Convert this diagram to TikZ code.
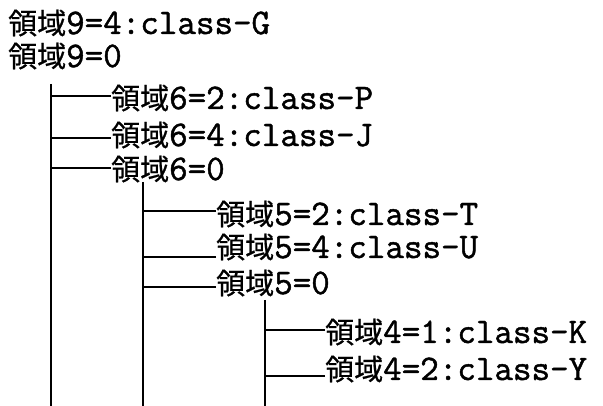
\documentclass[tikz,border=0pt]{standalone}
\usepackage{fontspec}
\newfontfamily\mono[FakeBold=1.3]{Latin Modern Mono}
\newfontfamily\cjk[FakeBold=0.6]{Noto Sans CJK JP}
\newcommand{\ry}{{\cjk\fontsize{29}{30}\selectfont 領域}}
\begin{document}
\begin{tikzpicture}[x=1pt,y=-1pt,
  lbl/.style={inner sep=0pt,anchor=base west,text height=22pt,text depth=3pt,font=\mono\fontsize{36}{38}\selectfont},
  wire/.style={line width=2.2pt}]
\useasboundingbox (0,0) rectangle (603,406);
\node[lbl] (r1) at (8,34) {\ry9=4:class-G};
\node[lbl] (r2) at (8,67) {\ry9=0};
\node[lbl] (r3) at (111,109) {\ry6=2:class-P};
\node[lbl] (r4) at (111,146) {\ry6=4:class-J};
\node[lbl] (r5) at (111,180) {\ry6=0};
\node[lbl] (r6) at (216,225) {\ry5=2:class-T};
\node[lbl] (r7) at (216,258) {\ry5=4:class-U};
\node[lbl] (r8) at (216,294) {\ry5=0};
\node[lbl] (r9) at (325,343) {\ry4=1:class-K};
\node[lbl] (r10) at (325,380) {\ry4=2:class-Y};
\coordinate (v1t) at (51,84);  \coordinate (v1b) at (51,406);
\coordinate (v2t) at (143,182); \coordinate (v2b) at (143,406);
\coordinate (v3t) at (265,300); \coordinate (v3b) at (265,406);
\draw[wire] (v1t) -- (v1b);
\draw[wire] (v2t) -- (v2b);
\draw[wire] (v3t) -- (v3b);
\draw[wire] ([yshift=13pt]r3.base west) -- ([yshift=13pt]r3.base west -| v1t);
\draw[wire] ([yshift=8pt]r4.base west) -- ([yshift=8pt]r4.base west -| v1t);
\draw[wire] ([yshift=12pt]r5.base west) -- ([yshift=12pt]r5.base west -| v1t);
\draw[wire] ([yshift=14pt]r6.base west) -- ([yshift=14pt]r6.base west -| v2t);
\draw[wire] ([yshift=1pt]r7.base west) -- ([yshift=1pt]r7.base west -| v2t);
\draw[wire] ([yshift=7pt]r8.base west) -- ([yshift=7pt]r8.base west -| v2t);
\draw[wire] ([yshift=13pt]r9.base west) -- ([yshift=13pt]r9.base west -| v3t);
\draw[wire] ([yshift=4pt]r10.base west) -- ([yshift=4pt]r10.base west -| v3t);
\end{tikzpicture}
\end{document}
